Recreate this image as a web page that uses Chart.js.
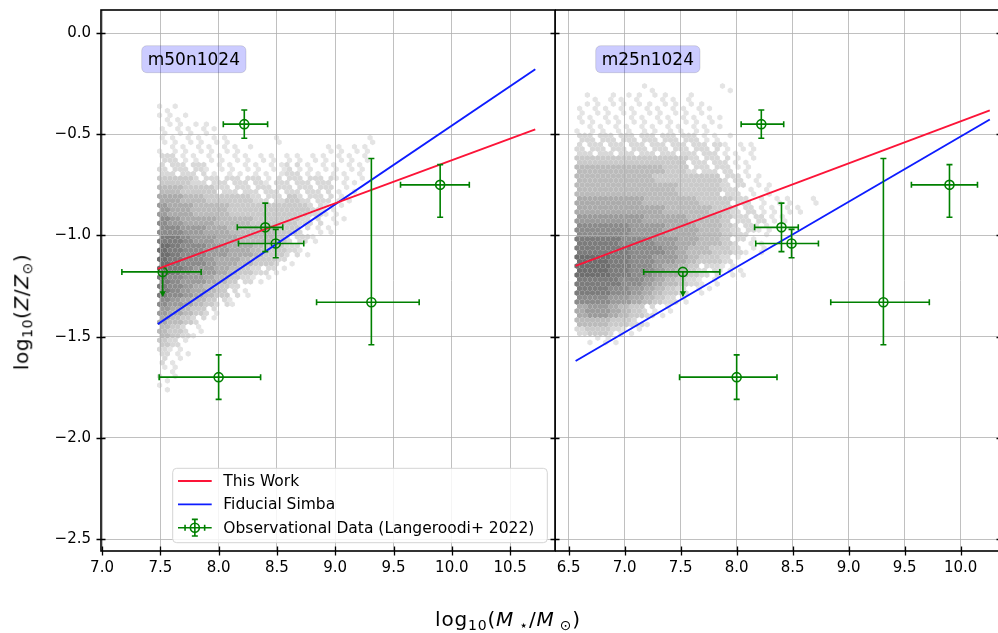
<!DOCTYPE html>
<html>
<head>
<meta charset="utf-8">
<title>Mass-metallicity, m50n1024 / m25n1024</title>
<script src="https://cdn.jsdelivr.net/npm/chart.js@4.4.1/dist/chart.umd.min.js"></script>
<style>
  body { margin:0; width:998px; height:633px; overflow:hidden; background:#fff; position:relative;
         font-family:"DejaVu Sans", sans-serif; color:#000; }
  .pane { position:absolute; top:0; }
  .ylab { position:absolute; left:22px; top:312px; transform:translate(-50%,-50%) rotate(-90deg);
          font-size:20px; letter-spacing:0.6px; white-space:nowrap; }
  .xlab { position:absolute; left:508px; top:620px; transform:translate(-50%,-50%);
          font-size:20px; letter-spacing:0.8px; white-space:nowrap; }
  sub { font-size:0.7em; vertical-align:-0.25em; }
</style>
</head>
<body>
<div class="pane" style="left:0;width:556px;height:633px"><canvas id="left" width="556" height="633"></canvas></div>
<div class="pane" style="left:555px;width:446px;height:633px"><canvas id="right" width="446" height="633"></canvas></div>
<div class="ylab">log<sub>10</sub>(<i>Z</i>/<i>Z</i><sub>⊙</sub>)</div>
<div class="xlab">log<sub>10</sub>(<i>M</i><sub> ⋆</sub>/<i>M</i><sub> ⊙</sub>)</div>
<script>
// axis limits
const xLeftMin = 6.991, xLeftMax = 10.885;
const xRightMin = 6.378, xRightMax = 10.36;
const yMin = -2.559, yMax = 0.114;

// observational data (Langeroodi+ 2022), same in both panels
const obsX    = [7.52, 8.22, 8.40, 8.49, 9.31, 9.90, 8.00];
const obsY    = [-1.18, -0.45, -0.96, -1.04, -1.33, -0.75, -1.70];
const obsXLo  = [7.17, 8.04, 8.16, 8.17, 8.84, 9.56, 7.49];
const obsXHi  = [7.85, 8.42, 8.55, 8.73, 9.72, 10.15, 8.36];
const obsYLo  = [-1.30, -0.52, -1.08, -1.11, -1.54, -0.91, -1.81];
const obsYHi  = [-1.18, -0.38, -0.84, -0.97, -0.62, -0.65, -1.59];
const obsUpLim = [true, false, false, false, false, false, false];

// fits
const leftRedX = [7.478, 10.716],  leftRedY = [-1.165, -0.476];
const leftBlueX = [7.478, 10.716], leftBlueY = [-1.438, -0.179];
const rightRedX = [6.562, 10.26],  rightRedY = [-1.15, -0.382];
const rightBlueX = [6.562, 10.26], rightBlueY = [-1.62, -0.427];

// galaxy density (0 empty .. 9 densest), cells of 0.1 dex x 0.05 dex, rows from the top
const leftHexX0 = 7.48, leftHexY0 = -0.35;
const leftHexRows = [
  "11000000000000000000",
  "11100000000000000000",
  "11111000000000000000",
  "11111100001000000010",
  "11111111000000111110",
  "22111111111111111100",
  "22221111111211111100",
  "33322222212222211100",
  "44333222222222211000",
  "55443333222322211000",
  "65544433333332110000",
  "76555444333322110000",
  "77665544443321100000",
  "88766554443221000000",
  "98776655433210000000",
  "98776554332100000000",
  "98766543221000000000",
  "87665432110000000000",
  "87654321000000000000",
  "76543210000000000000",
  "65432100000000000000",
  "54321000000000000000",
  "43210000000000000000",
  "32100000000000000000",
  "21100000000000000000",
  "21000000000000000000",
  "11000000000000000000",
  "10000000000000000000",
  "10000000000000000000"
];
const rightHexX0 = 6.56, rightHexY0 = -0.25;
const rightHexRows = [
  "0000001000000100000000",
  "0101110110100000000000",
  "1111111111110000000000",
  "1111111111111000000000",
  "1111111111111000000000",
  "2222222222211100000000",
  "2222222222222111000000",
  "3333333333222211000000",
  "4444444433222211000000",
  "4444444333333221100000",
  "4444444443333221110000",
  "5555554444433322111101",
  "5555555544443322111110",
  "6666665555444322211000",
  "7777766655544322110000",
  "8888777665544321100000",
  "8888877765443321100000",
  "9998877665433210000000",
  "9998877654322110000000",
  "8888776543211000000000",
  "8887765432110000000000",
  "7776654321000000000000",
  "5665432110000000000000",
  "4443321000000000000000",
  "2332110000000000000000",
  "0111000000000000000000"
];
const hexDx = 0.1, hexDy = 0.05;
const hexShades = ['', '#e4e4e4', '#d8d8d8', '#cacaca', '#bbbbbb', '#ababab', '#9b9b9b', '#8b8b8b', '#7c7c7c', '#6e6e6e'];

const legendLabels = ['This Work', 'Fiducial Simba', 'Observational Data (Langeroodi+ 2022)'];
const RED = '#fc1438', BLUE = '#0d1cff', GREEN = '#008000';
const FONT = 'DejaVu Sans';

function pts(xs, ys) { return xs.map((x, i) => ({x: x, y: ys[i]})); }

const hexPlugin = {
  id: 'hexbin',
  beforeDraw(chart, args, o) {
    const {ctx, chartArea: a, scales: {x, y}} = chart;
    const rows = o.rows, x0 = o.x0, y0 = o.y0;
    const R = 3.0, w = Math.sqrt(3) * R, h = 1.5 * R;
    const px0 = x.getPixelForValue(x0), px1 = x.getPixelForValue(x0 + hexDx * rows[0].length);
    const py0 = y.getPixelForValue(y0), py1 = y.getPixelForValue(y0 - hexDy * rows.length);
    ctx.save();
    ctx.beginPath(); ctx.rect(a.left, a.top, a.width, a.height); ctx.clip();
    for (let j = 0, py = py0 + h / 2; py < py1; j++, py += h) {
      const off = (j % 2) ? w / 2 : 0;
      for (let i = 0, px = px0 + off + w / 2 - 1; px < px1; i++, px += w) {
        const c = Math.floor((x.getValueForPixel(px) - x0) / hexDx);
        const r = Math.floor((y0 - y.getValueForPixel(py)) / hexDy);
        const lv = +((rows[r] || '')[c] || 0);
        if (!lv) continue;
        if (lv === 1 && ((i * 7 + j * 3) % 5) > 1) continue;
        if (lv === 2 && ((i * 3 + j * 5) % 4) === 0) continue;
        ctx.fillStyle = hexShades[lv];
        ctx.beginPath();
        for (let k = 0; k < 6; k++) {
          const ang = Math.PI / 3 * k + Math.PI / 6;
          const vx = px + R * Math.cos(ang), vy = py + R * Math.sin(ang);
          k ? ctx.lineTo(vx, vy) : ctx.moveTo(vx, vy);
        }
        ctx.closePath(); ctx.fill();
      }
    }
    ctx.restore();
  }
};

const errPlugin = {
  id: 'errbars',
  afterDatasetsDraw(chart) {
    const {ctx, scales: {x, y}} = chart;
    ctx.save();
    ctx.strokeStyle = GREEN; ctx.fillStyle = GREEN; ctx.lineWidth = 1.6;
    const cap = 3;
    obsX.forEach((xv, i) => {
      const cx = x.getPixelForValue(xv), cy = y.getPixelForValue(obsY[i]);
      const xl = x.getPixelForValue(obsXLo[i]), xh = x.getPixelForValue(obsXHi[i]);
      const yl = y.getPixelForValue(obsYLo[i]), yh = y.getPixelForValue(obsYHi[i]);
      ctx.beginPath();
      ctx.moveTo(xl, cy); ctx.lineTo(xh, cy);
      ctx.moveTo(xl, cy - cap); ctx.lineTo(xl, cy + cap);
      ctx.moveTo(xh, cy - cap); ctx.lineTo(xh, cy + cap);
      ctx.moveTo(cx, yh); ctx.lineTo(cx, yl);
      if (!obsUpLim[i]) {
        ctx.moveTo(cx - cap, yl); ctx.lineTo(cx + cap, yl);
        ctx.moveTo(cx - cap, yh); ctx.lineTo(cx + cap, yh);
      }
      ctx.stroke();
      if (obsUpLim[i]) {
        ctx.beginPath();
        ctx.moveTo(cx - 3.2, yl - 5); ctx.lineTo(cx + 3.2, yl - 5); ctx.lineTo(cx, yl + 0.5);
        ctx.closePath(); ctx.fill();
      }
    });
    ctx.restore();
  }
};

const framePlugin = {
  id: 'frame',
  afterDraw(chart, args, o) {
    const {ctx, chartArea: a, scales: {x, y}} = chart;
    ctx.save();
    ctx.strokeStyle = '#000'; ctx.lineWidth = 1.3;
    ctx.beginPath();
    x.ticks.forEach(t => {
      const p = Math.round(x.getPixelForValue(t.value)) + 0.5;
      ctx.moveTo(p, a.bottom - 4.5); ctx.lineTo(p, a.bottom + 4.5);
    });
    y.ticks.forEach(t => {
      const p = Math.round(y.getPixelForValue(t.value)) + 0.5;
      ctx.moveTo(a.left - 4.5, p); ctx.lineTo(a.left + 4.5, p);
      ctx.moveTo(a.right - 4.5, p); ctx.lineTo(a.right + 4.5, p);
    });
    ctx.stroke();
    ctx.lineWidth = 1.6;
    ctx.strokeRect(a.left, a.top, a.right - a.left, a.bottom - a.top);

    // run label box
    const bx = a.left + 40.7, by = a.top + 35.7, bw = 104.3, bh = 27;
    ctx.beginPath(); ctx.roundRect(bx, by, bw, bh, 5);
    ctx.fillStyle = 'rgba(0,0,255,0.2)'; ctx.fill();
    ctx.strokeStyle = 'rgba(0,0,0,0.12)'; ctx.lineWidth = 1; ctx.stroke();
    ctx.fillStyle = '#000'; ctx.font = '17px "' + FONT + '"';
    ctx.textAlign = 'center'; ctx.textBaseline = 'middle';
    ctx.fillText(o.label, bx + bw / 2, by + bh / 2 + 1);

    if (o.legend) {
      const lx = a.left + 71.7, ly = a.bottom - 82.7, lw = 374.6, lh = 74.4;
      ctx.beginPath(); ctx.roundRect(lx, ly, lw, lh, 4);
      ctx.fillStyle = 'rgba(255,255,255,0.85)'; ctx.fill();
      ctx.strokeStyle = '#d4d4d4'; ctx.lineWidth = 1; ctx.stroke();
      const hx0 = lx + 5.3, hx1 = lx + 39, tx = lx + 50.6;
      const rowsY = [ly + 12.7, ly + 36, ly + 59.4];
      ctx.lineWidth = 1.8;
      [RED, BLUE].forEach((c, i) => {
        ctx.strokeStyle = c; ctx.beginPath();
        ctx.moveTo(hx0, rowsY[i]); ctx.lineTo(hx1, rowsY[i]); ctx.stroke();
      });
      const gy = rowsY[2], gx = (hx0 + hx1) / 2;
      ctx.strokeStyle = GREEN; ctx.lineWidth = 1.6; ctx.beginPath();
      ctx.moveTo(hx0, gy); ctx.lineTo(hx1, gy);
      ctx.moveTo(gx - 9.8, gy - 3); ctx.lineTo(gx - 9.8, gy + 3);
      ctx.moveTo(gx + 9.8, gy - 3); ctx.lineTo(gx + 9.8, gy + 3);
      ctx.moveTo(gx, gy - 8.3); ctx.lineTo(gx, gy + 8.3);
      ctx.moveTo(gx - 3, gy - 8.3); ctx.lineTo(gx + 3, gy - 8.3);
      ctx.moveTo(gx - 3, gy + 8.3); ctx.lineTo(gx + 3, gy + 8.3);
      ctx.stroke();
      ctx.beginPath(); ctx.arc(gx, gy, 4.5, 0, Math.PI * 2); ctx.stroke();
      ctx.fillStyle = '#000'; ctx.font = '15.5px "' + FONT + '"';
      ctx.textAlign = 'left'; ctx.textBaseline = 'middle';
      legendLabels.forEach((t, i) => ctx.fillText(t, tx, rowsY[i] + 1));
    }
    ctx.restore();
  }
};

function noPad(s) { s.paddingTop = 0; s.paddingBottom = 0; s.paddingLeft = 0; s.paddingRight = 0; }

function makePanel(id, xMin, xMax, redX, redY, blueX, blueY, hex, label, showY, legend) {
  const tickFont = {family: FONT, size: 15};
  const gridStyle = {color: 'rgba(176,176,176,0.8)', lineWidth: 1, drawTicks: false};
  return new Chart(document.getElementById(id), {
    type: 'scatter',
    data: {
      datasets: [
        {type: 'line', label: legendLabels[0], data: pts(redX, redY), borderColor: RED, borderWidth: 1.9, pointRadius: 0, fill: false},
        {type: 'line', label: legendLabels[1], data: pts(blueX, blueY), borderColor: BLUE, borderWidth: 1.9, pointRadius: 0, fill: false},
        {label: legendLabels[2], data: pts(obsX, obsY), pointStyle: 'circle', pointRadius: 4.5,
         borderColor: GREEN, backgroundColor: 'rgba(0,0,0,0)', borderWidth: 1.6}
      ]
    },
    options: {
      responsive: false,
      animation: false,
      devicePixelRatio: 1,
      layout: {autoPadding: false, padding: {top: 10, right: showY ? 1 : 0, bottom: 0, left: 0}},
      plugins: {
        legend: {display: false},
        tooltip: {enabled: false},
        hexbin: hex,
        frame: {label: label, legend: legend}
      },
      scales: {
        x: {
          type: 'linear', min: xMin, max: xMax,
          afterFit: s => { s.height = 82; noPad(s); },
          border: {display: false},
          grid: gridStyle,
          ticks: {stepSize: 0.5, includeBounds: false, autoSkip: false, maxRotation: 0,
                  padding: 8, color: '#000', font: tickFont, callback: v => v.toFixed(1)}
        },
        y: {
          type: 'linear', min: yMin, max: yMax,
          afterFit: s => { s.width = showY ? 101 : 0; noPad(s); },
          border: {display: false},
          grid: gridStyle,
          ticks: {display: showY, stepSize: 0.5, includeBounds: false, padding: 10, color: '#000', font: tickFont,
                  callback: v => v.toFixed(1).replace('-', '\u2212')}
        }
      }
    },
    plugins: [hexPlugin, errPlugin, framePlugin]
  });
}

makePanel('left', xLeftMin, xLeftMax, leftRedX, leftRedY, leftBlueX, leftBlueY,
  {rows: leftHexRows, x0: leftHexX0, y0: leftHexY0}, 'm50n1024', true, true);
makePanel('right', xRightMin, xRightMax, rightRedX, rightRedY, rightBlueX, rightBlueY,
  {rows: rightHexRows, x0: rightHexX0, y0: rightHexY0}, 'm25n1024', false, false);
</script>
</body>
</html>
